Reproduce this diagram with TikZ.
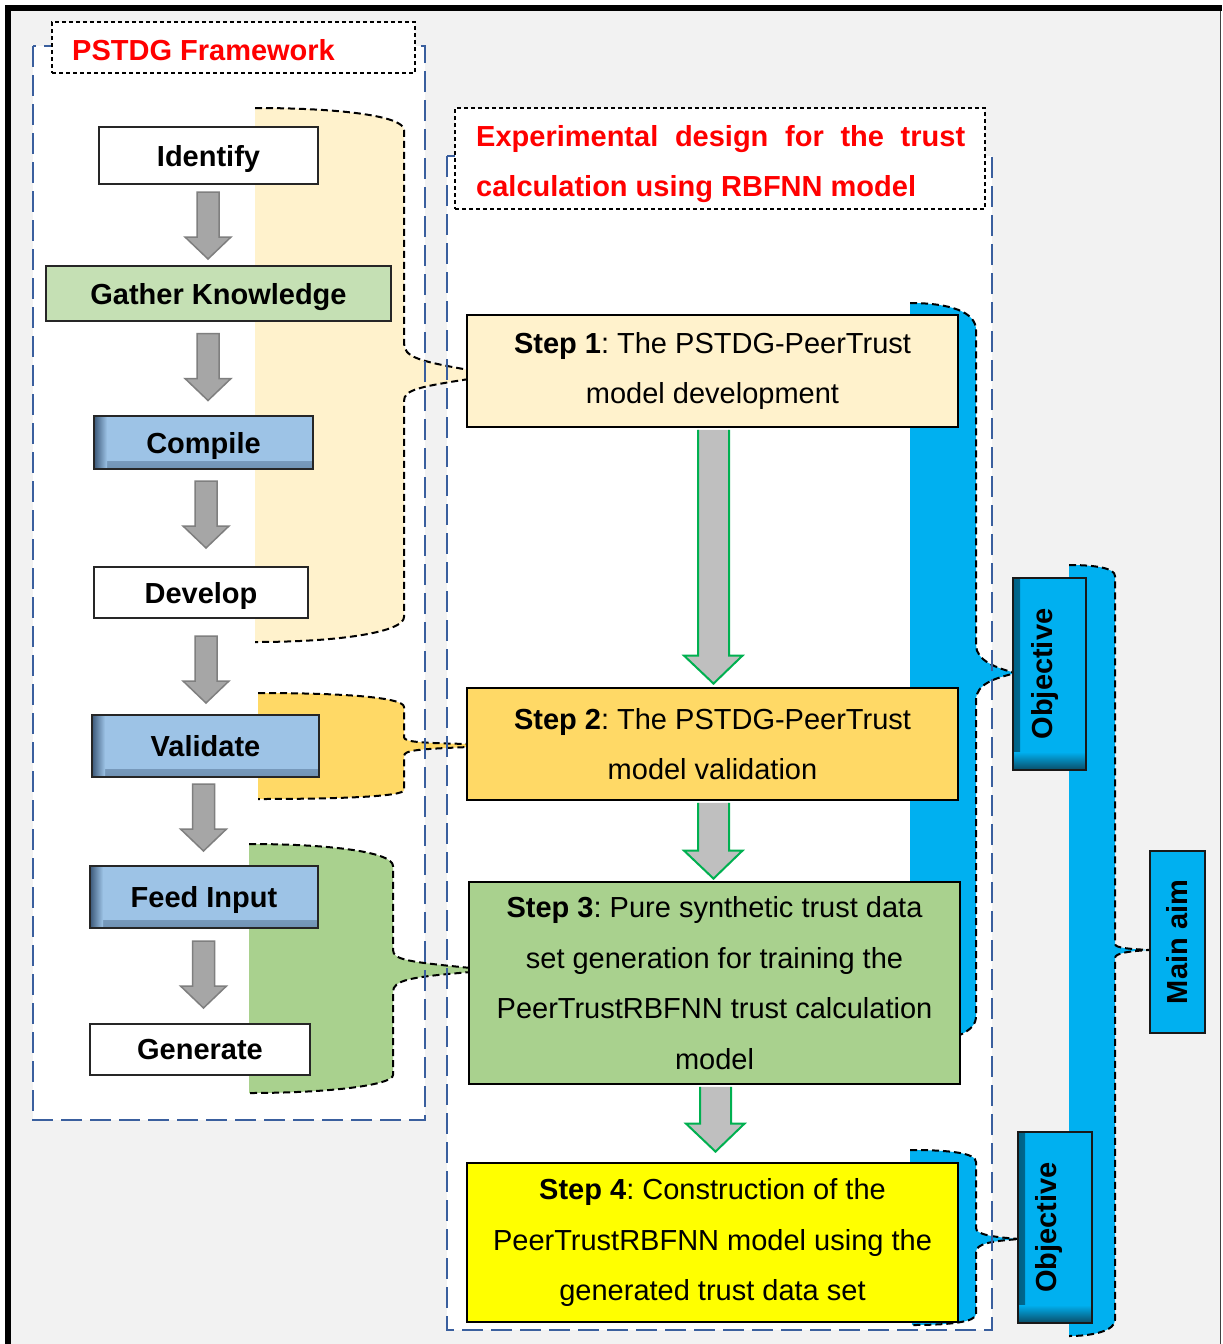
\documentclass[tikz,border=0pt]{standalone}
\usepackage{fontspec}
\setmainfont{Liberation Sans}
\usetikzlibrary{calc}
\frenchspacing
\definecolor{bggray}{HTML}{F2F2F2}
\definecolor{contblue}{HTML}{3A5F9E}
\definecolor{gknow}{HTML}{C5E0B4}
\definecolor{lblue}{HTML}{9DC3E6}
\definecolor{lbluedark}{HTML}{3B5878}
\definecolor{s1col}{HTML}{FFF2CC}
\definecolor{s2col}{HTML}{FFD966}
\definecolor{s3col}{HTML}{A9D18E}
\definecolor{s4col}{HTML}{FFFF00}
\definecolor{cyanb}{HTML}{00B0F0}
\definecolor{cyandark}{HTML}{0A4C66}
\definecolor{arrgray}{HTML}{A6A6A6}
\definecolor{arrgrayd}{HTML}{7F7F7F}
\definecolor{garrfill}{HTML}{BFBFBF}
\definecolor{garrline}{HTML}{00B050}
\definecolor{titlered}{HTML}{FF0000}

% brace outlines (pixel coordinates, y downwards)
\newcommand\braceYa{(255,108) .. controls (340,108) and (404,116) .. (404,130) -- (404,343) .. controls (404,357) and (418,361) .. (469,370) -- (469,379) .. controls (418,387) and (404,390) .. (404,401) -- (404,617) .. controls (404,632) and (340,642) .. (255,642)}
\newcommand\braceYb{(258,693) .. controls (340,693) and (404,697) .. (404,707) -- (404,737) .. controls (404,742) and (420,743) .. (469,744) -- (469,747) .. controls (420,749) and (404,750) .. (404,756) -- (404,790) .. controls (404,797) and (330,799) .. (258,799)}
\newcommand\braceGc{(249,844) .. controls (330,844) and (393,852) .. (393,866) -- (393,950) .. controls (393,960) and (410,962) .. (471,968) -- (471,972) .. controls (410,977) and (393,980) .. (393,992) -- (393,1075) .. controls (393,1085) and (330,1093) .. (249,1093)}
\newcommand\braceBa{(910,303) .. controls (950,303) and (976,312) .. (976,330) -- (976,645) .. controls (976,660) and (995,668) .. (1016,673) .. controls (995,678) and (976,684) .. (976,700) -- (976,1016) .. controls (976,1025) and (970,1030) .. (960,1035)}
\newcommand\braceBb{(910,1150) .. controls (950,1150) and (976,1153) .. (976,1162) -- (976,1228) .. controls (976,1234) and (990,1237) .. (1020,1239) .. controls (990,1241) and (976,1244) .. (976,1252) -- (976,1314) .. controls (976,1322) and (950,1325) .. (912,1325)}
\newcommand\braceBc{(1069,565) .. controls (1095,565) and (1115,568) .. (1115,576) -- (1115,944) .. controls (1115,948) and (1130,949) .. (1150,950) .. controls (1130,951) and (1115,953) .. (1115,958) -- (1115,1320) .. controls (1115,1330) and (1095,1336) .. (1069,1336)}

\newcommand\mygrayarrow[4]{%
  \begin{scope}[shift={($(#1.south)!0.5!(#2.north)+(#3,#4)$)}]
    \filldraw[grayarr] (-11,-33.5) -- (-11,11.5) -- (-23,11.5) -- (0,33.5) -- (23,11.5) -- (11,11.5) -- (11,-33.5) -- cycle;
  \end{scope}}
\newcommand\mygreenarrow[3]{%
  \path[greenarr] let \p1=(#1.south), \p2=(#2.north) in
    (\x1-14.5pt,\y1-1.4pt) -- (\x1-14.5pt,\y2+#3pt+28pt) -- (\x1-28.5pt,\y2+#3pt+28pt) -- (\x1+1pt,\y2+#3pt) -- (\x1+30pt,\y2+#3pt+28pt) -- (\x1+16.5pt,\y2+#3pt+28pt) -- (\x1+16.5pt,\y1-1.4pt);}

\begin{document}
\begin{tikzpicture}[x=1pt,y=-1pt,
  lbl/.style={font=\fontsize{29}{35}\selectfont\bfseries, text depth=0pt},
  lbox/.style={draw=black!85, line width=2pt, inner sep=0pt, lbl},
  sbox/.style={lbox, fill=lblue, path picture={
      \shade[top color=lblue, bottom color=lbluedark!45!lblue] ([yshift=8pt]path picture bounding box.south west) rectangle (path picture bounding box.south east);
      \shade[left color=lbluedark, right color=lblue] (path picture bounding box.south west) rectangle ([xshift=13pt]path picture bounding box.north west);}},
  stepbox/.style={draw=black, line width=2.8pt, inner sep=0pt, align=center, font=\fontsize{29}{50.5}\selectfont},
  objbox/.style={draw=black!90, line width=2.5pt, fill=cyanb, inner sep=0pt, path picture={
      \shade[left color=cyanb!55!black, right color=cyanb] (path picture bounding box.south west) rectangle ([xshift=7pt]path picture bounding box.north west);
      \shade[top color=cyanb, bottom color=cyandark] ([yshift=18pt]path picture bounding box.south west) rectangle (path picture bounding box.south east);}},
  mainbox/.style={draw=black!90, line width=2.5pt, fill=cyanb, inner sep=0pt},
  titlebox/.style={draw=black, line width=1.3pt, dash pattern=on 4pt off 3pt, fill=white, inner sep=0pt},
  titletext/.style={anchor=base west, inner sep=0pt, text=titlered, font=\fontsize{29}{35}\selectfont\bfseries},
  cont/.style={draw=contblue, line width=2.6pt, dash pattern=on 21pt off 8pt},
  bdash/.style={draw=black, line width=2pt, dash pattern=on 7pt off 4pt},
  grayarr/.style={fill=arrgray, draw=arrgrayd, line width=1.5pt},
  greenarr/.style={fill=garrfill, draw=garrline, line width=2pt},
  vlabel/.style={rotate=90, inner sep=0pt, font=\fontsize{29}{35}\selectfont\bfseries}]

\useasboundingbox (0,0) rectangle (1223,1344);
% background and outer frame
\fill[white] (0,0) rectangle (1223,1344);
\fill[bggray] (8,8) rectangle (1221,1344);
\draw[line width=1.5pt, black!75] (1220.5,10) -- (1220.5,1344);
\draw[line width=6pt] (5,8) -- (1222,8);
\draw[line width=6pt] (8,5) -- (8,1344);

% containers (fill)
\fill[white] (33,46) rectangle (425,1120);
\fill[white] (447,156) rectangle (992,1330);

% braces
\fill[s1col] \braceYa -- cycle;
\draw[bdash] \braceYa;
\fill[s2col] \braceYb -- cycle;
\draw[bdash] \braceYb;
\fill[s3col] \braceGc -- cycle;
\draw[bdash] \braceGc;
\fill[cyanb] \braceBa -- (910,1035) -- cycle;
\draw[bdash] \braceBa;
\fill[cyanb] \braceBb -- cycle;
\draw[bdash] \braceBb;
\fill[cyanb] \braceBc -- cycle;
\draw[bdash] \braceBc;

% container borders
\draw[cont] (33,46) rectangle (425,1120);
\draw[cont] (447,156) rectangle (992,1330);

% titles
\node[titlebox, minimum width=363pt, minimum height=51pt] (t1box) at (233.5,47.5) {};
\node[titletext] (t1) at (72,60.5) {PSTDG Framework};
\node[titlebox, minimum width=530pt, minimum height=101pt] (t2box) at (720,158.5) {};
\node[titletext] (t2a) at (476,146) {\makebox[489pt][s]{Experimental design for the trust}};
\node[titletext] (t2b) at (476,196) {calculation using RBFNN model};

% left flow
\node[lbox, fill=white, minimum width=219pt, minimum height=57pt] (identify) at (208.5,155.5) {Identify};
\node[lbox, fill=gknow, minimum width=345pt, minimum height=55pt] (gather) at (218.5,293.5) {Gather Knowledge};
\node[sbox, minimum width=219pt, minimum height=53pt] (compile) at (203.5,442.5) {Compile};
\node[lbox, fill=white, minimum width=214pt, minimum height=51pt] (develop) at (201,592.5) {Develop};
\node[sbox, minimum width=227pt, minimum height=62pt] (validate) at (205.5,746) {Validate};
\node[sbox, minimum width=228pt, minimum height=62pt] (feed) at (204,897) {Feed Input};
\node[lbox, fill=white, minimum width=220pt, minimum height=51pt] (generate) at (200,1049.5) {Generate};

\mygrayarrow{identify}{gather}{-5.5}{0.5}
\mygrayarrow{gather}{compile}{-3}{-1.5}
\mygrayarrow{compile}{develop}{3.75}{-3.5}
\mygrayarrow{develop}{validate}{2.75}{3}
\mygrayarrow{validate}{feed}{-1.25}{-4}
\mygrayarrow{feed}{generate}{1.5}{-1.5}

% right flow
\node[stepbox, fill=s1col, minimum width=491pt, minimum height=112pt] (s1) at (712.5,371) {\textbf{Step 1}: The PSTDG-PeerTrust\\model development};
\node[stepbox, fill=s2col, minimum width=491pt, minimum height=112pt] (s2) at (712.5,744) {\textbf{Step 2}: The PSTDG-PeerTrust\\model validation};
\node[stepbox, fill=s3col, minimum width=491pt, minimum height=202pt] (s3) at (714.5,983) {\textbf{Step 3}: Pure synthetic trust data\\set generation for training the\\PeerTrustRBFNN trust calculation\\model};
\node[stepbox, fill=s4col, minimum width=491pt, minimum height=159pt] (s4) at (712.5,1242.5) {\textbf{Step 4}: Construction of the\\PeerTrustRBFNN model using the\\generated trust data set};

\mygreenarrow{s1}{s2}{3}
\mygreenarrow{s2}{s3}{2}
\mygreenarrow{s3}{s4}{10}

% objectives and main aim
\node[objbox, minimum width=73pt, minimum height=192pt] (obj1) at (1049.5,674) {};
\node[vlabel] (obj1t) at ([xshift=-5pt]obj1.center) {Objective};
\node[objbox, minimum width=74pt, minimum height=191pt] (obj2) at (1055,1227.5) {};
\node[vlabel] (obj2t) at ([xshift=-6pt]obj2.center) {Objective};
\node[mainbox, minimum width=55pt, minimum height=182pt] (mainaim) at (1177.5,942) {};
\node[vlabel] (maint) at (mainaim.center) {Main aim};
\end{tikzpicture}
\end{document}
